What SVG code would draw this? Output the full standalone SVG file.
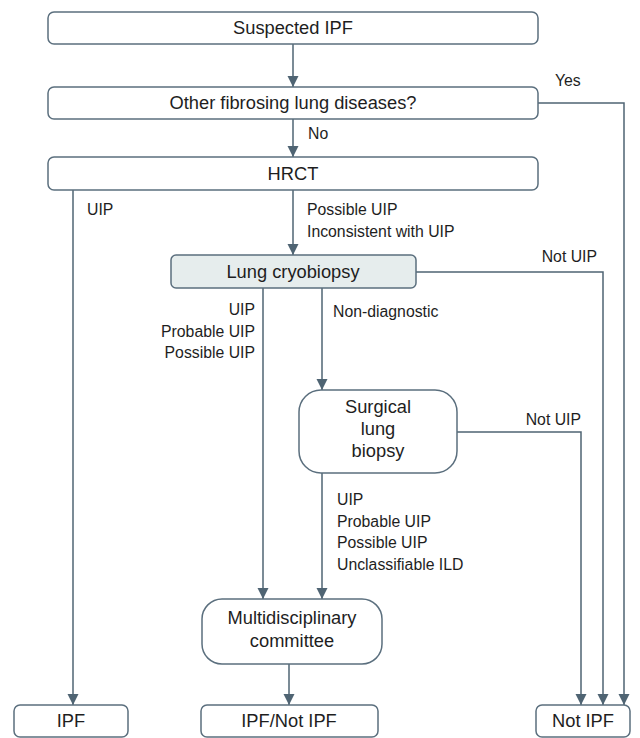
<svg xmlns="http://www.w3.org/2000/svg" width="640" height="738" viewBox="0 0 640 738">
<style>
.box{fill:#fff;stroke:#5b6f7e;stroke-width:1.5}
.hl{fill:#e6eded}
.ln{fill:none;stroke:#4f6473;stroke-width:1.5}
.nt{font-family:"Liberation Sans",Arial,sans-serif;font-size:18.3px;fill:#1e1e1e;text-anchor:middle}
.lb{font-family:"Liberation Sans",Arial,sans-serif;font-size:15.8px;fill:#1e1e1e}
.r{text-anchor:end}
</style>
<defs>
<marker id="ah" markerUnits="userSpaceOnUse" markerWidth="12" markerHeight="12" refX="11" refY="6" orient="auto">
<path d="M0,0.5 L11,6 L0,11.5 z" fill="#4f6473"/>
</marker>
</defs>
<rect width="640" height="738" fill="#fff"/>
<g id="connectors">
<line class="ln" x1="293" y1="44" x2="293" y2="87" marker-end="url(#ah)"/>
<line class="ln" x1="293" y1="119" x2="293" y2="157" marker-end="url(#ah)"/>
<polyline class="ln" points="538,103 624,103 624,705" marker-end="url(#ah)"/>
<line class="ln" x1="73" y1="190" x2="73" y2="705" marker-end="url(#ah)"/>
<line class="ln" x1="293" y1="190" x2="293" y2="255" marker-end="url(#ah)"/>
<polyline class="ln" points="416,272 603,272 603,705" marker-end="url(#ah)"/>
<line class="ln" x1="263" y1="288" x2="263" y2="599" marker-end="url(#ah)"/>
<line class="ln" x1="322" y1="288" x2="322" y2="390" marker-end="url(#ah)"/>
<polyline class="ln" points="457,432 581,432 581,705" marker-end="url(#ah)"/>
<line class="ln" x1="322" y1="473" x2="322" y2="599" marker-end="url(#ah)"/>
<line class="ln" x1="289" y1="664" x2="289" y2="705" marker-end="url(#ah)"/>
<text class="lb" x="555" y="86">Yes</text>
<text class="lb" x="308" y="139">No</text>
<text class="lb" x="87" y="215">UIP</text>
<text class="lb" x="307" y="215">Possible UIP</text>
<text class="lb" x="307" y="237">Inconsistent with UIP</text>
<text class="lb r" x="597" y="262">Not UIP</text>
<text class="lb r" x="255" y="315">UIP</text>
<text class="lb r" x="255" y="337">Probable UIP</text>
<text class="lb r" x="255" y="358">Possible UIP</text>
<text class="lb" x="333" y="317">Non-diagnostic</text>
<text class="lb r" x="581" y="425">Not UIP</text>
<text class="lb" x="337" y="505">UIP</text>
<text class="lb" x="337" y="527">Probable UIP</text>
<text class="lb" x="337" y="548">Possible UIP</text>
<text class="lb" x="337" y="570">Unclassifiable ILD</text>
</g>
<g id="suspected">
<rect class="box" x="48" y="12" width="490" height="32" rx="6"/>
<text class="nt" x="293" y="34">Suspected IPF</text>
</g>
<g id="other">
<rect class="box" x="48" y="87" width="490" height="32" rx="6"/>
<text class="nt" x="293" y="109">Other fibrosing lung diseases?</text>
</g>
<g id="hrct">
<rect class="box" x="48" y="157" width="490" height="33" rx="6"/>
<text class="nt" x="293" y="180">HRCT</text>
</g>
<g id="cryo">
<rect class="box hl" x="171" y="255" width="245" height="33" rx="5"/>
<text class="nt" x="293" y="278">Lung cryobiopsy</text>
</g>
<g id="surgical">
<rect class="box" x="299" y="390" width="158" height="83" rx="22"/>
<text class="nt" x="378" y="413">Surgical</text>
<text class="nt" x="378" y="435">lung</text>
<text class="nt" x="378" y="457">biopsy</text>
</g>
<g id="mdc">
<rect class="box" x="202" y="599" width="180" height="65" rx="20"/>
<text class="nt" x="292" y="624">Multidisciplinary</text>
<text class="nt" x="292" y="647">committee</text>
</g>
<g id="ipf">
<rect class="box" x="14" y="705" width="114" height="32" rx="6"/>
<text class="nt" x="71" y="727">IPF</text>
</g>
<g id="ipfnot">
<rect class="box" x="201" y="705" width="177" height="32" rx="6"/>
<text class="nt" x="289" y="727">IPF/Not IPF</text>
</g>
<g id="notipf">
<rect class="box" x="536" y="705" width="94" height="32" rx="6"/>
<text class="nt" x="583" y="727">Not IPF</text>
</g>
</svg>
